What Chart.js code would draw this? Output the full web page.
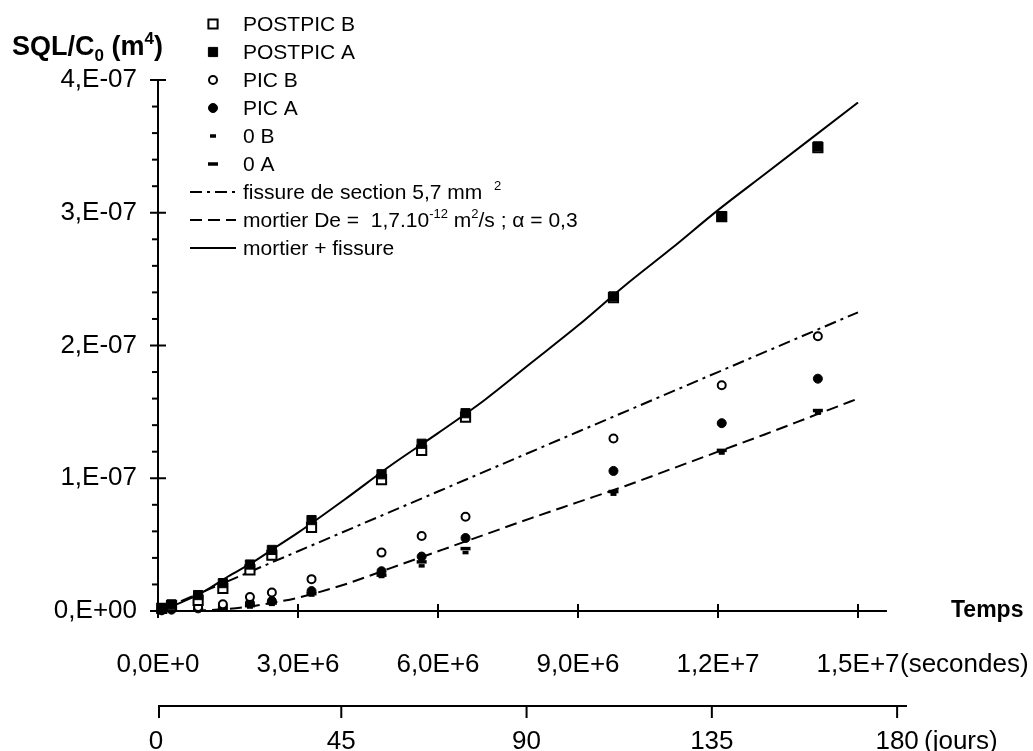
<!DOCTYPE html>
<html>
<head>
<meta charset="utf-8">
<title>SQL/C0 - temps</title>
<script src="https://cdn.jsdelivr.net/npm/chart.js@4/dist/chart.umd.min.js"></script>
<style>
  html, body { margin: 0; padding: 0; background: #fff; }
  #wrap { width: 1033px; height: 751px; }
</style>
</head>
<body>
<div id="wrap"><canvas id="sqlChart" width="1033" height="751"></canvas></div>
<script>
// ======= Data =======
// measurement times (secondes)
const times = [8.0e4, 2.9e5, 8.6e5, 1.39e6, 1.97e6, 2.44e6, 3.29e6, 4.79e6, 5.65e6, 6.59e6, 9.76e6, 1.208e7, 1.414e7];

// SQL/C0 in units of 1E-07 m4
const postpicB = [0.02, 0.04, 0.08, 0.17, 0.31, 0.42, 0.63, 0.99, 1.21, 1.46, 2.36, 2.97, 3.49];
const postpicA = [0.02, 0.05, 0.12, 0.21, 0.35, 0.46, 0.685, 1.03, 1.26, 1.49, 2.37, 2.975, 3.50];
const picB = [0.01, 0.02, 0.03, 0.05, 0.105, 0.14, 0.24, 0.44, 0.565, 0.71, 1.30, 1.70, 2.07];
const picA = [0.005, 0.01, 0.02, 0.035, 0.06, 0.075, 0.15, 0.30, 0.41, 0.55, 1.055, 1.415, 1.75];
const zeroB = [0, 0.005, 0.005, 0.01, 0.03, 0.05, 0.12, 0.26, 0.34, 0.44, 0.88, 1.19, 1.49];
const zeroA = [0, 0.005, 0.01, 0.015, 0.04, 0.06, 0.13, 0.27, 0.37, 0.47, 0.90, 1.21, 1.51];

// model curves
const modelTimes = [0, 0.5e6, 1e6, 1.5e6, 2e6, 2.5e6, 3e6, 4e6, 5e6, 6e6, 7e6, 8e6, 9e6, 1e7, 1.1e7, 1.2e7, 1.3e7, 1.4e7, 1.5e7];
const mortierFissure = [0, 0.065, 0.15, 0.26, 0.36, 0.475, 0.59, 0.84, 1.10, 1.34, 1.59, 1.87, 2.15, 2.45, 2.73, 3.02, 3.29, 3.56, 3.83];
const mortier = [0, 0, 0.005, 0.015, 0.035, 0.065, 0.10, 0.20, 0.325, 0.45, 0.575, 0.70, 0.82, 0.94, 1.07, 1.20, 1.33, 1.465, 1.60];
const fissureTimes = [0, 3e6, 6e6, 9e6, 1.2e7, 1.5e7];
const fissure = [0, 0.45, 0.90, 1.35, 1.80, 2.25];

// ticks
const yTickValues = [0, 1e-7, 2e-7, 3e-7, 4e-7];
const yTickLabels = ["0,E+00", "1,E-07", "2,E-07", "3,E-07", "4,E-07"];
const xTickValues = [0, 3e6, 6e6, 9e6, 1.2e7, 1.5e7];
const xTickLabels = ["0,0E+0", "3,0E+6", "6,0E+6", "9,0E+6", "1,2E+7", "1,5E+7"];
const dayTickValues = [0, 45, 90, 135, 180];
const dayTickLabels = ["0", "45", "90", "135", "180"];

// legend text (superscripts marked 'sup')
const legendRows = [
  [["POSTPIC B"]],
  [["POSTPIC A"]],
  [["PIC B"]],
  [["PIC A"]],
  [["0 B"]],
  [["0 A"]],
  [["fissure de section 5,7 mm  "], ["2", "sup"]],
  [["mortier De =  1,7.10"], ["-12", "sup"], [" m"], ["2", "sup"], ["/s ; \u03b1 = 0,3"]],
  [["mortier + fissure"]]
];

const FONT = "'Liberation Sans', Arial, Helvetica, sans-serif";
const X_MIN = -1.714e5, X_MAX = 1.605e7; // plot area edges
const X_AXIS_END = 1.562e7;              // where the drawn time axis stops
const DAY_MIN = -1.46, DAY_MAX = 182.4;

const pts = (xs, ys) => xs.map((x, i) => ({ x: x, y: ys[i] * 1e-7 }));

const datasets = [
  { label: "POSTPIC B", data: pts(times, postpicB), pointStyle: "rect", pointRadius: 6.5,
    backgroundColor: "#fff", borderColor: "#000", borderWidth: 2 },
  { label: "POSTPIC A", data: pts(times, postpicA), pointStyle: "rect", pointRadius: 6.5,
    backgroundColor: "#000", borderColor: "#000", borderWidth: 1, order: -1 },
  { label: "PIC B", data: pts(times, picB), pointStyle: "circle", pointRadius: 4,
    backgroundColor: "#fff", borderColor: "#000", borderWidth: 2 },
  { label: "PIC A", data: pts(times, picA), pointStyle: "circle", pointRadius: 4.5,
    backgroundColor: "#000", borderColor: "#000", borderWidth: 1 },
  { label: "0 B", data: pts(times, zeroB), pointStyle: "line", pointRadius: 3,
    backgroundColor: "#000", borderColor: "#000", borderWidth: 3.5 },
  { label: "0 A", data: pts(times, zeroA), pointStyle: "line", pointRadius: 5,
    backgroundColor: "#000", borderColor: "#000", borderWidth: 3.5 },
  { label: "fissure de section 5,7 mm2", data: pts(fissureTimes, fissure), showLine: true,
    pointRadius: 0, borderColor: "#000", borderWidth: 2, borderDash: [12, 5, 3, 5] },
  { label: "mortier", data: pts(modelTimes, mortier), showLine: true, pointRadius: 0,
    borderColor: "#000", borderWidth: 2, borderDash: [12, 6], cubicInterpolationMode: "monotone" },
  { label: "mortier + fissure", data: pts(modelTimes, mortierFissure), showLine: true, pointRadius: 0,
    borderColor: "#000", borderWidth: 2, cubicInterpolationMode: "monotone" }
];
datasets.forEach(d => { d.clip = false; d.pointHoverRadius = d.pointRadius; });

function drawRich(ctx, parts, x, y, size, weight) {
  parts.forEach(([t, kind]) => {
    const s = kind ? Math.round(size * 0.62) : size;
    const dy = kind === "sup" ? -size * 0.42 : kind === "sub" ? size * 0.22 : 0;
    ctx.font = `${weight} ${s}px ${FONT}`;
    ctx.fillText(t, x, y + dy);
    x += ctx.measureText(t).width;
  });
}

// axes with crossing ticks, titles and legend
const decorations = {
  id: "decorations",
  afterDraw(chart) {
    const ctx = chart.ctx;
    const xs = chart.scales.x, ys = chart.scales.y, ds = chart.scales.days;
    const x0 = xs.getPixelForValue(0), y0 = ys.getPixelForValue(0);
    const seg = (a, b, c, d) => { ctx.beginPath(); ctx.moveTo(a, b); ctx.lineTo(c, d); ctx.stroke(); };

    ctx.save();
    ctx.strokeStyle = "#000";
    ctx.fillStyle = "#000";
    ctx.lineWidth = 2;

    // y axis
    seg(x0, ys.getPixelForValue(4e-7), x0, y0 + 2);
    yTickValues.forEach(v => { const p = ys.getPixelForValue(v); seg(x0 - 8, p, x0 + 8, p); });
    for (let k = 1; k < 20; k++) {
      if (k % 5 === 0) continue;
      const p = ys.getPixelForValue(k * 0.2e-7);
      seg(x0 - 6, p, x0, p);
    }

    // time axis (secondes)
    seg(x0 - 2, y0, xs.getPixelForValue(X_AXIS_END), y0);
    xTickValues.forEach(v => { const p = xs.getPixelForValue(v); seg(p, y0 - 7, p, y0 + 7); });

    // day axis (jours)
    const yd = ds.top;
    seg(x0, yd, ds.getPixelForValue(DAY_MAX), yd);
    dayTickValues.forEach(v => {
      const p = Math.max(ds.getPixelForValue(v), x0 + 1);
      seg(p, yd, p, yd + 12);
    });

    // titles
    ctx.textBaseline = "alphabetic";
    drawRich(ctx, [["SQL/C"], ["0", "sub"], [" (m"], ["4", "sup"], [")"]], 12, 55, 27, "bold");
    ctx.textBaseline = "middle";
    ctx.font = `bold 23px ${FONT}`;
    ctx.fillText("Temps", 951, y0);
    ctx.font = `26px ${FONT}`;
    ctx.fillText("(secondes)", 900, 665);
    ctx.fillText("(jours)", 924, 742);

    // legend
    chart.data.datasets.forEach((d, i) => {
      const cy = 24 + i * 28;
      ctx.save();
      if (d.showLine) {
        ctx.lineWidth = d.borderWidth;
        ctx.setLineDash(d.borderDash || []);
        seg(190, cy, 236, cy);
      } else {
        ctx.fillStyle = d.backgroundColor;
        ctx.strokeStyle = d.borderColor;
        ctx.lineWidth = d.borderWidth;
        Chart.helpers.drawPoint(ctx, { pointStyle: d.pointStyle, radius: d.pointRadius, borderWidth: d.borderWidth, rotation: 0 }, 213, cy);
      }
      ctx.restore();
      ctx.textBaseline = "alphabetic";
      drawRich(ctx, legendRows[i], 243, cy + 7, 21, "normal");
    });
    ctx.restore();
  }
};

const tickFont = { family: FONT, size: 26 };

new Chart(document.getElementById("sqlChart"), {
  type: "scatter",
  data: { datasets: datasets },
  options: {
    responsive: false,
    animation: false,
    events: [],
    devicePixelRatio: 1,
    layout: { padding: { top: 80, right: 126, bottom: 0, left: 0 } },
    plugins: { legend: { display: false }, tooltip: { enabled: false } },
    scales: {
      x: {
        type: "linear", position: "bottom", weight: 0, min: X_MIN, max: X_MAX,
        grid: { display: false, drawTicks: false }, border: { display: false },
        afterBuildTicks: s => { s.ticks = xTickValues.map(v => ({ value: v })); },
        afterFit: s => { s.height = 95; },
        ticks: { padding: 38, color: "#000", font: tickFont, autoSkip: false, maxRotation: 0,
                 callback: (v, i) => xTickLabels[i] }
      },
      days: {
        type: "linear", axis: "x", position: "bottom", weight: 1, min: DAY_MIN, max: DAY_MAX,
        grid: { display: false, drawTicks: false }, border: { display: false },
        afterBuildTicks: s => { s.ticks = dayTickValues.map(v => ({ value: v })); },
        afterFit: s => { s.height = 45; },
        ticks: { padding: 20, color: "#000", font: tickFont, autoSkip: false, maxRotation: 0,
                 callback: (v, i) => dayTickLabels[i] }
      },
      y: {
        type: "linear", position: "left", min: 0, max: 4e-7,
        grid: { display: false, drawTicks: false }, border: { display: false },
        afterBuildTicks: s => { s.ticks = yTickValues.map(v => ({ value: v })); },
        afterFit: s => { s.width = 150; },
        ticks: { padding: 13, color: "#000", font: tickFont, autoSkip: false,
                 callback: (v, i) => yTickLabels[i] }
      }
    }
  },
  plugins: [decorations]
});
</script>
</body>
</html>
